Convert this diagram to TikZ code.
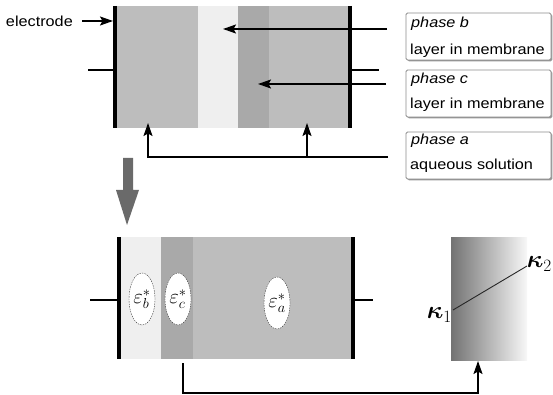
\documentclass[tikz,border=0pt]{standalone}
\usepackage[no-math]{fontspec}
\usepackage{bm}
\setmainfont{Liberation Sans}
\newfontfamily\lblfont[FakeStretch=1.12]{Liberation Sans}
\usetikzlibrary{arrows.meta,shapes.geometric,shadows}
\definecolor{cellgray}{HTML}{BDBDBD}
\definecolor{celllight}{HTML}{EFEFEF}
\definecolor{celldark}{HTML}{A9A9A9}
\definecolor{bigarrow}{HTML}{6A6A6A}
\begin{document}
\begin{tikzpicture}[x=1pt,y=-1pt,
  electrodeline/.style={line width=4pt},
  wire/.style={line width=1.5pt},
  arr/.style={line width=1.5pt,-{Stealth[length=13pt,width=9pt,inset=2.5pt]}},
  infobox/.style={draw=black!45,line width=0.8pt,fill=white,rounded corners=1.5pt,
    minimum width=145pt,minimum height=47pt,inner sep=0pt,
    drop shadow={shadow xshift=1.3pt,shadow yshift=-1.3pt,fill=black!40,opacity=1}},
  lbl/.style={font=\lblfont\fontsize{14.5}{16}\selectfont,inner sep=0pt,anchor=west},
  epsnode/.style={ellipse,draw=black!75,dash pattern=on 1.5pt off 1pt,fill=white,
    minimum width=26pt,minimum height=52pt,inner sep=0pt,font=\fontsize{20}{22}\selectfont},
  kap/.style={inner sep=0pt,font=\fontsize{23}{25}\selectfont}]
\useasboundingbox (0,0) rectangle (553,395);

% ---------- top cell ----------
\fill[cellgray]  (117,6) rectangle (198,128);
\fill[celllight] (198,6) rectangle (238,128);
\fill[celldark]  (238,6) rectangle (269,128);
\fill[cellgray]  (269,6) rectangle (349,128);
\draw[electrodeline] (115,6) -- (115,128);
\draw[electrodeline] (350,6) -- (350,128);
\draw[wire] (88,70) -- (115,70);
\draw[wire] (350,70) -- (379,70);

% electrode label
\node[lbl,anchor=east] (elab) at (73,21) {electrode};
\coordinate (estart) at (82,21);
\coordinate (etip) at (113,21);
\draw[arr] (estart) -- (etip);

% info boxes
\node[infobox] (pb) at (478.5,36.5) {};
\node[infobox] (pc) at (478.5,93.5) {};
\node[infobox] (pa) at (478.5,155.5) {};
\node[lbl] (pbt1) at (411,24) {\itshape phase b};
\node[lbl] (pbt2) at (410,51) {layer in membrane};
\node[lbl] (pct1) at (411,80) {\itshape phase c};
\node[lbl] (pct2) at (410,105) {layer in membrane};
\node[lbl] (pat1) at (411,141) {\itshape phase a};
\node[lbl] (pat2) at (410,166) {aqueous solution};

% arrows from boxes
\coordinate (bstart) at (387,29);
\coordinate (btip) at (223,29);
\coordinate (cstartt) at (386,84);
\coordinate (ctip) at (258,84);
\draw[arr] (bstart) -- (btip);
\draw[arr] (cstartt) -- (ctip);
\coordinate (astart) at (388,157);
\coordinate (atip1) at (148,123);
\coordinate (abranch) at (307,157);
\coordinate (atip2) at (307,123);
\draw[arr] (astart) -| (atip1);
\draw[arr] (abranch) -- (atip2);

% big down arrow
\fill[bigarrow] (123,158) -- (133,158) -- (133,190) -- (139,190) -- (127,225)
  -- (116,190) -- (123,190) -- cycle;

% ---------- bottom cell ----------
\fill[celllight] (121,237) rectangle (161,359);
\fill[celldark]  (161,237) rectangle (193,359);
\fill[cellgray]  (193,237) rectangle (352,359);
\draw[electrodeline] (119,237) -- (119,359);
\draw[electrodeline] (353,237) -- (353,359);
\draw[wire] (90,300) -- (119,300);
\draw[wire] (353,300) -- (373,300);

\node[epsnode] (eb) at (142,299) {$\varepsilon^{*}_{b}$};
\node[epsnode] (ec) at (178,299) {$\varepsilon^{*}_{c}$};
\node[epsnode] (ea) at (277,303) {$\varepsilon^{*}_{a}$};

% gradient block
\node[minimum width=76pt,minimum height=123pt,inner sep=0pt,
  left color=black!55,right color=black!3] (grad) at (489,298.5) {};
\coordinate (k1pt) at (453,310);
\coordinate (k2pt) at (527,266);
\draw[line width=0.9pt,black!85] (k1pt) -- (k2pt);
\node[kap,anchor=east] (k1) at (452,315) {$\bm{\kappa}_1$};
\node[kap,anchor=east] (k2) at (552,264) {$\bm{\kappa}_2$};

% connector to gradient block
\coordinate (cstart) at (183,363);
\coordinate (cbot) at (183,393);
\coordinate (gtip) at (478,361);
\draw[arr] (cstart) -- (cbot) -| (gtip);
\end{tikzpicture}
\end{document}
